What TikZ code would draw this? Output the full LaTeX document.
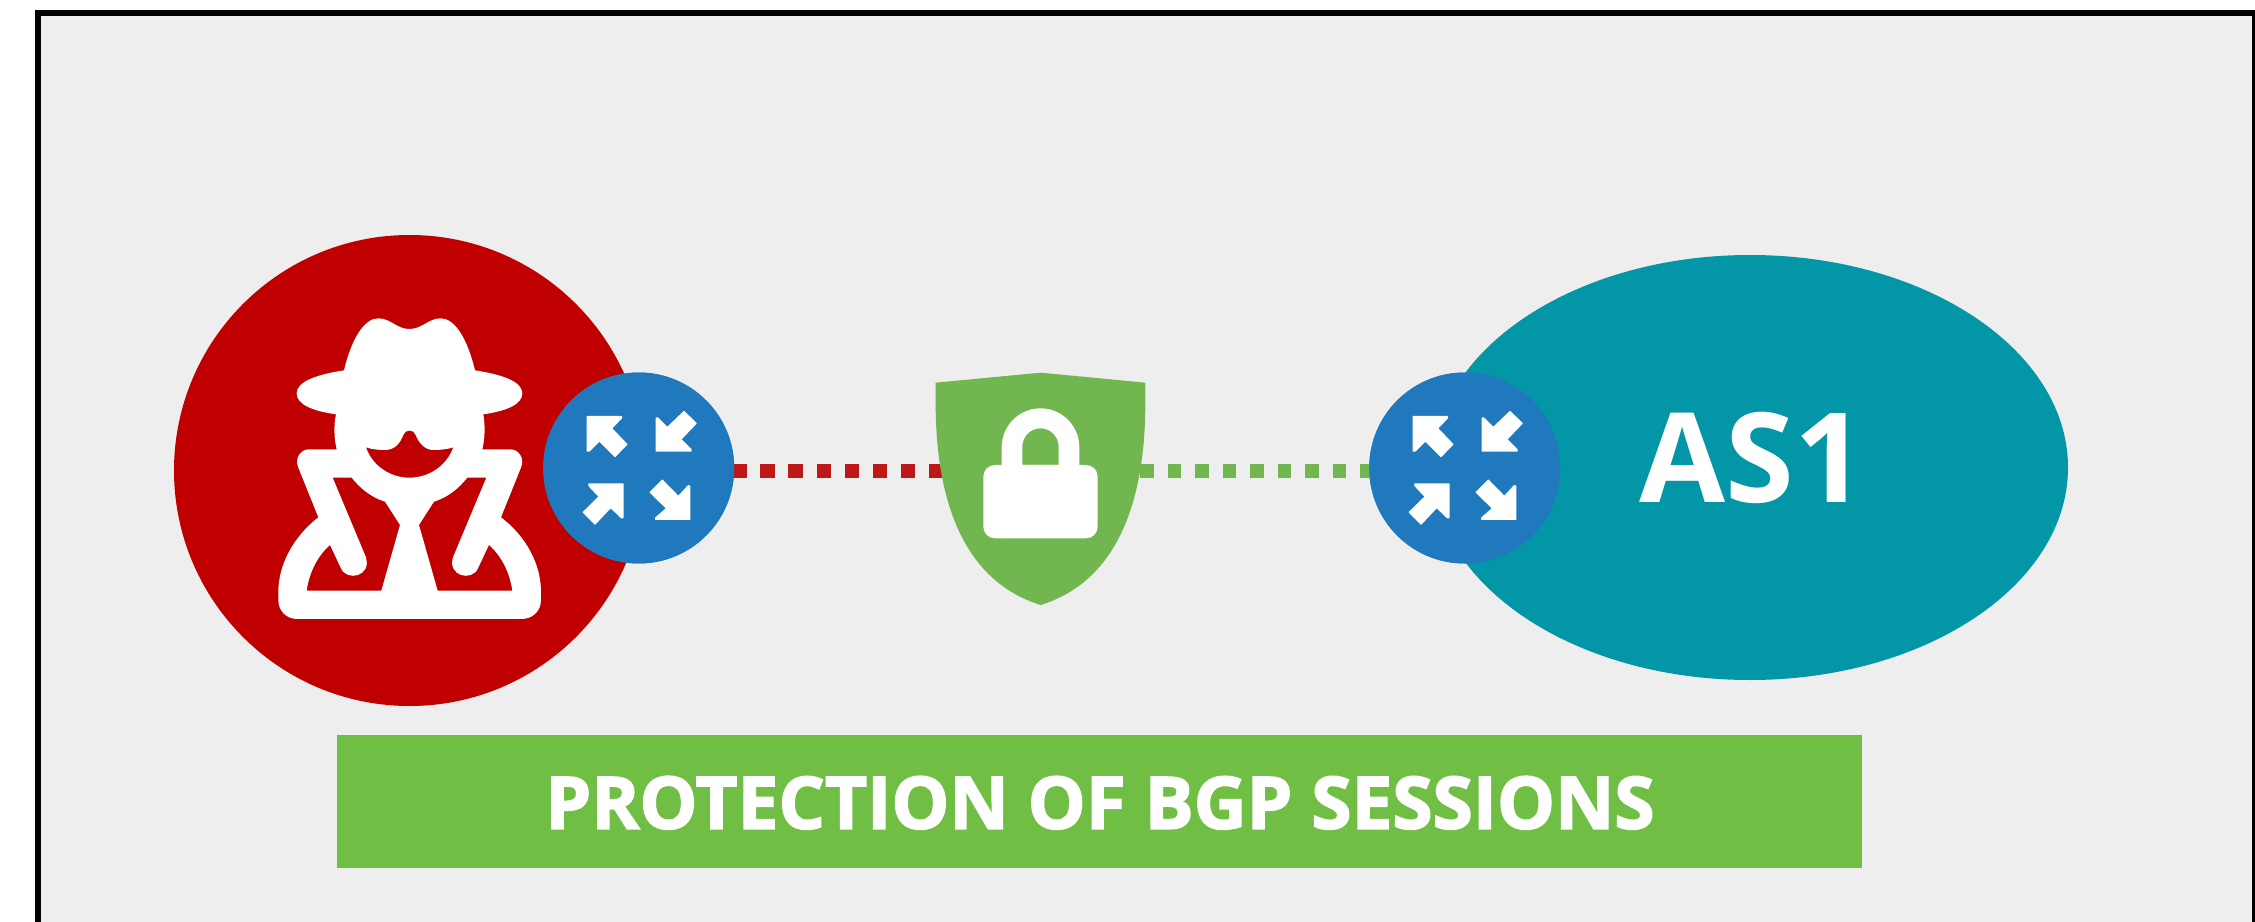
\documentclass[tikz,border=0pt]{standalone}
\usepackage{fontspec}
\setmainfont{Open Sans}
\newfontfamily\bannerfont[FakeBold=2.2,FakeStretch=1.008]{Open Sans Bold}
\usetikzlibrary{shapes.geometric}
\definecolor{pagegray}{HTML}{EEEEEE}
\definecolor{spyred}{HTML}{C00000}
\definecolor{routerblue}{HTML}{2078BD}
\definecolor{asteal}{HTML}{0396A6}
\definecolor{shieldgreen}{HTML}{71B64E}
\definecolor{bannergreen}{HTML}{70BF44}
\definecolor{dashred}{HTML}{BD1718}
\tikzset{
	round/.style={circle,inner sep=0pt,minimum size=#1*.02cm},
	redline/.style={dashred,line width=7.8pt,dash pattern=on 8.14pt off 7.85pt,dash phase=10.7pt},
	greenline/.style={shieldgreen,line width=7.8pt,dash pattern=on 7.8pt off 7.85pt,dash phase=5.86pt}
}

\begin{document}
\begin{tikzpicture}[x=.02cm,y=-.02cm]
		\def\third{.3333}
		\useasboundingbox (0,0) rectangle (2255,922);
		\clip (0,0) rectangle (2255,922);
		\draw[black,fill=pagegray,line width=3.4pt] (38,13) rectangle (2255,1000);

		\node[round=471,fill=spyred] (attacker) at (409.5,470.5) {};
		\node[ellipse,inner sep=0pt,minimum width=636*.02cm,minimum height=425*.02cm,fill=asteal] (as1) at (1750,467.5) {};
		\node[white,anchor=base,font=\fontsize{71}{71}\selectfont\bfseries] (as1label) at (1752.5,502.7) {AS1};
		\node[round=191,fill=routerblue] (routerL) at (638.7,468) {};
		\node[round=191,fill=routerblue] (routerR) at (1464.7,468) {};
		\coordinate (shield) at (1040.5,471);

		\draw[redline] (routerL |- shield) -- (shield);
		\draw[greenline] (shield) -- (routerR |- shield);
		\node[round=191,fill=routerblue] at (routerL) {};
		\node[round=191,fill=routerblue] at (routerR) {};

		\foreach \r in {routerL,routerR}
		{
			\begin{scope}[shift={(\r)},shift={(-68.67,-68)},scale=\third]
				\fill[white,rounded corners=.3pt]
				(50,48) -- (156,48) -- (156,55) -- (127,85) -- (173,133) -- (135,172) -- (88,125) -- (58,155) -- (50,155) -- cycle
				(257,52) -- (264,52) -- (292,80) -- (342,32) -- (381,70) -- (335,118) -- (365,148) -- (365,155) -- (257,155) -- cycle
				(55,258) -- (55,250) -- (161,250) -- (161,355) -- (153,355) -- (122,325) -- (75,375) -- (37,337) -- (85,290) -- cycle
				(361,257) -- (354,255) -- (325,287) -- (277,238) -- (238,277) -- (287,325) -- (255,353) -- (255,360) -- (361,360) -- cycle;
			\end{scope}
		}

		\begin{scope}[shift={(265,305)},scale=\third]
			\fill[white,even odd rule]
			(95,265) .. controls (95,228) and (160,208) .. (237,196)
			.. controls (260,100) and (298,40) .. (340,40)
			.. controls (377,40) and (395,72) .. (433,72)
			.. controls (472,72) and (490,40) .. (527,40)
			.. controls (569,40) and (607,100) .. (630,196)
			.. controls (707,208) and (772,228) .. (772,265)
			.. controls (772,298) and (725,318) .. (655,328)
			.. controls (661,362) and (660,400) .. (652,433)
			-- (735,433)
			.. controls (762,433) and (780,460) .. (768,488)
			-- (708,637)
			.. controls (785,695) and (828,780) .. (828,860)
			-- (828,885)
			.. controls (828,918) and (803,942) .. (770,942)
			-- (97,942)
			.. controls (64,942) and (40,918) .. (40,885)
			-- (40,860)
			.. controls (40,780) and (85,695) .. (160,637)
			-- (100,488)
			.. controls (88,460) and (106,433) .. (133,433)
			-- (215,433)
			.. controls (207,400) and (206,362) .. (213,328)
			.. controls (142,318) and (95,298) .. (95,265) -- cycle
			(303,427) .. controls (320,433) and (340,435) .. (360,435)
			.. controls (390,435) and (405,415) .. (415,390)
			.. controls (420,372) and (447,372) .. (452,390)
			.. controls (462,415) and (480,435) .. (505,435)
			.. controls (525,435) and (548,433) .. (565,427)
			.. controls (545,482) and (493,518) .. (433,518)
			.. controls (375,518) and (322,482) .. (303,427) -- cycle
			(203,518) -- (260,518) .. controls (285,550) and (320,578) .. (360,590)
			-- (405,660) -- (349,857) -- (125,857)
			.. controls (133,800) and (160,750) .. (195,720)
			-- (228,790) .. controls (245,830) and (320,815) .. (303,757) -- cycle
			(664,518) -- (607,518) .. controls (582,550) and (547,578) .. (507,590)
			-- (462,660) -- (518,857) -- (742,857)
			.. controls (734,800) and (707,750) .. (672,720)
			-- (639,790) .. controls (622,830) and (547,815) .. (564,757) -- cycle;
		\end{scope}

		\begin{scope}[shift={(925,360)},scale=\third]
			\fill[shieldgreen]
			(32,68) -- (347,38) -- (661,68) -- (661,130)
			.. controls (661,400) and (590,660) .. (347,735)
			.. controls (104,660) and (32,400) .. (32,130) -- cycle;
			\fill[white,rounded corners=6.6pt] (175,315) rectangle (518,535);
			\fill[white,even odd rule]
			(230,320) -- (230,262) arc[start angle=180,end angle=0,x radius=116.5,y radius=-117] -- (463,320) -- cycle
			(292,315) -- (292,260) arc[start angle=180,end angle=0,x radius=54.5,y radius=-55] -- (401,315) -- cycle;
		\end{scope}

		\node[minimum width=1525*.02cm,minimum height=133*.02cm,inner sep=0pt,fill=bannergreen] (banner) at (1099.5,801.5) {};
		\node[white,anchor=base,font=\bannerfont\fontsize{41.2}{41.2}\selectfont] (bannerlabel) at (1100,828.7) {PROTECTION OF BGP SESSIONS};
	\end{tikzpicture}
\end{document}
